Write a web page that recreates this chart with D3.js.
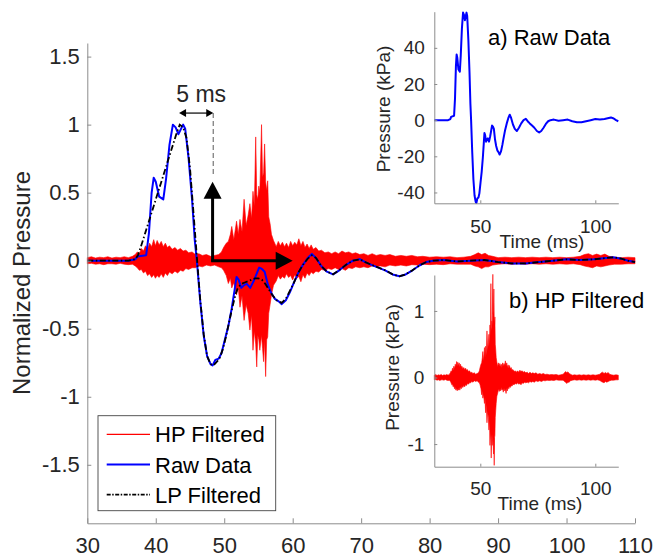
<!DOCTYPE html>
<html>
<head>
<meta charset="utf-8">
<script src="https://cdn.jsdelivr.net/npm/d3@7"></script>
<style>
html,body{margin:0;padding:0;background:#fff;}
text{font-family:"Liberation Sans",Arial,Helvetica,sans-serif;}
</style>
</head>
<body>
<svg id="chart" width="655" height="558"></svg>
<script>
// ---------------- DATA ----------------
const mainXTicks = [30,40,50,60,70,80,90,100,110];
const mainYTicks = [-1.5,-1,-0.5,0,0.5,1,1.5];
const insetXTicks = [50,100];
const insetAYTicks = [-40,-20,0,20,40];
const insetBYTicks = [-1,0,1];
const legendLabels = ["HP Filtered","Raw Data","LP Filtered"];

// Raw pressure (kPa): [time ms, value]
const rawData = [
 [30,0],[33,0],[36,0],[37,0.6],[37.3,1.8],[38.6,2.4],[39.0,11.9],[39.4,29.8],[39.7,36.3],[40.0,34.5],
 [40.5,28.0],[41.1,26.8],[41.5,35.7],[42.0,50.6],[42.5,59.5],[42.9,58.3],[43.3,55.3],[43.6,57.1],[44.0,59.5],[44.3,57.7],
 [44.8,44.6],[45.3,26.8],[45.7,8.9],[46.0,0],[46.5,-17.9],[47.0,-32.7],[47.5,-41.7],[48.0,-45.2],[48.3,-45.8],[48.7,-43.4],
 [49.2,-42.8],[49.6,-40.5],[50.1,-34.5],[50.6,-28.6],[51.1,-20.8],[51.5,-13.1],[51.8,-7.1],[52.1,-8.3],[52.5,-11.9],[52.9,-10.7],
 [53.3,-10.1],[53.8,-11.9],[54.3,-8.9],[54.7,-6.0],[55.1,-3.0],[55.5,-3.6],[55.9,-4.8],[56.4,-10.7],[56.9,-14.3],[57.4,-16.7],
 [58.0,-17.9],[58.4,-19.0],[59.0,-17.3],[59.6,-13.7],[60.1,-10.1],[60.8,-5.4],[61.5,-1.8],[62.2,1.2],[62.8,3.0],[63.4,1.2],
 [64.2,-2.4],[65.0,-4.8],[65.9,-6.0],[66.8,-4.2],[67.8,-1.8],[68.8,0],[69.8,0.7],[70.6,-0.6],[71.5,-1.8],[72.5,-3.0],
 [73.5,-4.2],[74.6,-6.0],[75.6,-6.8],[76.5,-6.0],[77.5,-4.2],[78.5,-2.1],[79.5,-0.6],[80.5,0],[82,0.3],[84,-0.3],
 [86,0],[88,0.3],[90,-0.6],[92,-1.2],[94,-1.2],[96,-0.6],[98,0],[100,0.6],[102,0.3],[104,0.6],
 [106.8,1.5],[108,0.9],[109,0],[110,-0.6]
];

// Low-pass filtered (normalized): [time ms, value]
const lpData = [
 [30,0],[36,0],[37,0.01],[37.4,0.04],[38,0.13],[38.5,0.21],[39,0.29],[39.5,0.37],[40,0.45],[40.5,0.53],
 [41,0.61],[41.5,0.69],[42,0.77],[42.5,0.85],[43,0.93],[43.5,1.0],[44,0.98],[44.5,0.9],[45,0.68],[45.5,0.36],
 [46,0.03],[46.5,-0.29],[47,-0.54],[47.5,-0.7],[48,-0.76],[48.4,-0.77],[48.8,-0.75],[49.3,-0.72],[49.8,-0.65],[50.3,-0.55],
 [50.8,-0.43],[51.3,-0.32],[51.7,-0.24],[52.0,-0.2],[52.5,-0.17],[53.0,-0.16],[53.5,-0.15],[54.0,-0.14],[54.5,-0.13],[55.0,-0.13],
 [55.5,-0.14],[56.0,-0.17],[56.5,-0.21],[57.0,-0.25],[57.6,-0.29],[58.4,-0.31],[59.0,-0.28],[59.6,-0.22],[60.1,-0.17],[60.8,-0.09],
 [61.5,-0.03],[62.2,0.015],[62.8,0.04],[63.4,0.02],[64.2,-0.04],[65.0,-0.08],[65.9,-0.1],[66.8,-0.07],[67.8,-0.03],[68.8,0],
 [69.8,0.01],[70.6,-0.01],[71.5,-0.03],[72.5,-0.05],[73.5,-0.07],[74.6,-0.1],[75.6,-0.115],[76.5,-0.1],[77.5,-0.07],[78.5,-0.035],
 [79.5,-0.01],[80.5,0],[82,0.005],[84,-0.005],[86,0],[88,0.005],[90,-0.01],[92,-0.02],[94,-0.02],[96,-0.01],
 [98,0],[100,0.01],[102,0.005],[104,0.01],[106.8,0.025],[108,0.015],[109,0],[110,-0.01]
];

// High-pass filtered (kPa) envelope: [time ms, upper, lower]
const hpData = [
 [30,.035,-.035],[30.6,.045,-.03],[31.2,.03,-.04],[31.8,.04,-.035],[32.4,.035,-.045],[33,.045,-.035],[33.6,.03,-.035],
 [34.2,.04,-.04],[34.8,.035,-.03],[35.4,.045,-.04],[36,.035,-.045],[36.6,.05,-.04],
 [37,.07,-.06],[37.3,.1,-.08],[37.6,.08,-.11],[37.9,.14,-.1],[38.2,.11,-.14],[38.5,.17,-.12],[38.8,.13,-.17],[39.1,.2,-.15],
 [39.4,.16,-.19],[39.7,.24,-.16],[39.95,.17,-.2],[40.2,.23,-.17],[40.5,.18,-.19],[40.8,.22,-.15],[41.1,.16,-.19],[41.4,.2,-.14],
 [41.7,.15,-.17],[42.0,.17,-.13],[42.4,.13,-.15],[42.8,.15,-.12],[43.2,.12,-.14],[43.6,.14,-.11],[44.0,.11,-.12],[44.4,.12,-.09],
 [44.8,.09,-.1],[45.3,.1,-.08],[45.8,.07,-.08],[46.3,.08,-.06],[46.8,.06,-.07],[47.4,.07,-.05],[48,.05,-.06],[48.6,.06,-.05],
 [49.2,.07,-.07],[49.6,.1,-.08],[49.9,.15,-.11],[50.3,.2,-.17],
 [50.6,0.22,-0.26],[50.9,0.3,-0.2],[51.1,0.39,-0.31],[51.4,0.24,-0.25],[51.8,0.45,-0.39],[52.05,0.3,-0.3],[52.3,0.47,-0.53],
 [52.6,0.33,-0.4],[52.9,0.7,-0.68],[53.2,0.4,-0.5],[53.5,0.52,-0.6],[53.75,0.65,-0.79],[54.0,0.48,-0.62],[54.2,0.79,-1.02],
 [54.4,0.62,-0.8],[54.6,1.41,-0.95],[54.75,0.75,-1.21],[54.9,0.7,-0.85],[55.05,0.85,-0.9],[55.2,0.78,-1.02],[55.45,1.55,-0.85],
 [55.6,0.95,-1.0],[55.75,1.0,-1.15],[55.9,1.33,-0.9],[56.05,0.9,-1.32],[56.2,0.8,-0.9],[56.35,0.91,-0.87],[56.5,0.5,-0.6],
 [56.7,0.42,-0.5],[56.9,0.3,-0.39],[57.2,0.23,-0.28],
 [57.6,.16,-.23],[57.9,.22,-.17],[58.2,.17,-.21],[58.5,.21,-.18],[58.8,.16,-.2],[59.1,.2,-.15],[59.4,.15,-.19],[59.7,.22,-.17],
 [60.0,.17,-.22],[60.3,.21,-.16],[60.6,.18,-.2],[60.9,.25,-.18],[61.2,.17,-.24],[61.5,.22,-.16],[61.8,.15,-.2],[62.1,.19,-.14],
 [62.4,.14,-.17],[62.7,.18,-.13],[63.0,.13,-.15],[63.4,.15,-.12],[63.8,.11,-.13],[64.2,.12,-.1],[64.7,.09,-.11],[65.2,.1,-.09],
 [65.7,.08,-.1],[66.2,.1,-.08],[66.7,.08,-.1],[67.2,.11,-.09],[67.7,.09,-.11],[68.2,.1,-.08],[68.7,.08,-.09],[69.2,.09,-.07],
 [69.8,.07,-.08],[70.4,.08,-.07],[71,.06,-.08],[71.6,.08,-.06],[72.2,.06,-.07],[72.8,.07,-.06],[73.5,.06,-.07],[74.2,.07,-.05],
 [75,.05,-.06],[75.8,.06,-.05],[76.6,.05,-.06],[77.4,.06,-.045],[78.2,.045,-.05],[79,.05,-.04],[80,.04,-.045],[81,.045,-.04],
 [82,.04,-.045],[83,.045,-.035],[84,.035,-.04],[85,.04,-.04],[86,.05,-.04],[86.6,.07,-.06],[87.1,.09,-.07],[87.6,.07,-.09],
 [88.1,.085,-.07],[88.6,.06,-.07],[89.2,.05,-.05],[90,.035,-.04],[91,.04,-.035],[92,.035,-.04],[93,.04,-.035],[94,.035,-.04],
 [95,.04,-.035],[96,.035,-.04],[97,.04,-.035],[98,.035,-.04],[99,.04,-.035],[100,.035,-.04],[101,.04,-.035],[102,.05,-.045],
 [102.6,.07,-.06],[103.2,.08,-.07],[103.8,.06,-.08],[104.4,.075,-.06],[105,.06,-.07],[105.6,.075,-.06],[106.2,.05,-.05],
 [107,.04,-.04],[108,.035,-.04],[109,.04,-.035],[110,.035,-.035]
];

// Annotation anchors (data units)
const arrowOrigin = [48.3, 0];
const arrowUpEnd = 0.58;
const arrowRightEnd = 60;
const spanStart = 43.4, spanEnd = 48.4, spanLevel = 1.085, dashBottom = 0.63;
const spanLabel = "5 ms";

// ---------------- DRAW ----------------
const svg = d3.select("#chart");
const AXC = "#8c8c8c", TXC = "#262626";
const RED = "#ff0000", BLUE = "#0000ff";

const rawMax = d3.max(rawData, d => d[1]);
const hpMax = d3.max(hpData, d => d[1]);

// main scales
const x = d3.scaleLinear([30,110],[87.3,635]);
const y = d3.scaleLinear([-1.93,1.6],[523.3,43]);

function styleAxis(g, fs){
  g.attr("font-family",null).attr("font-size",null);
  g.select(".domain").attr("stroke",AXC).attr("stroke-width",1);
  g.selectAll(".tick line").attr("stroke",AXC).attr("stroke-width",1);
  g.selectAll(".tick text").attr("fill",TXC).style("font-size",fs+"px")
    .style("font-family",'"Liberation Sans",Arial,sans-serif');
}

// HP (red) area
const hpAreaMain = d3.area()
  .x(d => x(d[0])).y0(d => y(d[2]/hpMax)).y1(d => y(d[1]/hpMax));
svg.append("path").datum(hpData).attr("d",hpAreaMain)
  .attr("fill",RED).attr("stroke",RED).attr("stroke-width",0.6).attr("stroke-linejoin","miter");

// Raw (blue)
const rawLineMain = d3.line().x(d => x(d[0])).y(d => y(d[1]/rawMax));
svg.append("path").datum(rawData).attr("d",rawLineMain)
  .attr("fill","none").attr("stroke",BLUE).attr("stroke-width",2).attr("stroke-linejoin","round");

// LP (black dash-dot)
const lpLine = d3.line().x(d => x(d[0])).y(d => y(d[1]));
svg.append("path").datum(lpData).attr("d",lpLine)
  .attr("fill","none").attr("stroke","#000").attr("stroke-width",1.8)
  .attr("stroke-dasharray","6,2.5,1.5,2.5");

// main axes
const gx = svg.append("g").attr("transform","translate(0,523.3)")
  .call(d3.axisBottom(x).tickValues(mainXTicks).tickFormat(d=>String(d))
    .tickSizeInner(-5).tickSizeOuter(0).tickPadding(14.5));
styleAxis(gx,22);
const gy = svg.append("g").attr("transform","translate(87.3,0)")
  .call(d3.axisLeft(y).tickValues(mainYTicks).tickFormat(d=>String(d))
    .tickSizeInner(-4).tickSizeOuter(0).tickPadding(7.5));
styleAxis(gy,22);

svg.append("text").attr("transform","translate(22,283) rotate(-90)")
  .attr("text-anchor","middle").attr("dy","0.35em")
  .style("font-size","24px").attr("fill",TXC).text("Normalized Pressure");

// arrows
const ax0 = x(arrowOrigin[0]), ay0 = y(arrowOrigin[1]);
const upTip = y(arrowUpEnd), rtTip = x(arrowRightEnd);
const HL = 17, HW = 9;
svg.append("line").attr("x1",ax0).attr("y1",ay0).attr("x2",ax0).attr("y2",upTip+HL-1)
  .attr("stroke","#000").attr("stroke-width",3);
svg.append("path").attr("d",`M${ax0},${upTip}L${ax0-HW},${upTip+HL}L${ax0+HW},${upTip+HL}Z`).attr("fill","#000");
svg.append("line").attr("x1",ax0-1.5).attr("y1",ay0).attr("x2",rtTip-HL+1).attr("y2",ay0)
  .attr("stroke","#000").attr("stroke-width",3);
svg.append("path").attr("d",`M${rtTip},${ay0}L${rtTip-HL},${ay0-HW}L${rtTip-HL},${ay0+HW}Z`).attr("fill","#000");

// 5 ms span
const sx0 = x(spanStart), sx1 = x(spanEnd), sy = y(spanLevel);
svg.append("line").attr("x1",sx1).attr("y1",sy).attr("x2",sx1).attr("y2",y(dashBottom))
  .attr("stroke","#808080").attr("stroke-width",1.3).attr("stroke-dasharray","5,3");
svg.append("line").attr("x1",sx0+5).attr("y1",sy).attr("x2",sx1-5).attr("y2",sy)
  .attr("stroke","#000").attr("stroke-width",1.2);
svg.append("path").attr("d",`M${sx0},${sy}L${sx0+7},${sy-4}L${sx0+7},${sy+4}Z`).attr("fill","#000");
svg.append("path").attr("d",`M${sx1},${sy}L${sx1-7},${sy-4}L${sx1-7},${sy+4}Z`).attr("fill","#000");
svg.append("text").attr("x",x((spanStart+spanEnd)/2)+5).attr("y",101.7).attr("text-anchor","middle")
  .style("font-size","23px").attr("fill",TXC).text(spanLabel);

// legend
const lg = svg.append("g");
lg.append("rect").attr("x",98).attr("y",415.7).attr("width",177.7).attr("height",95)
  .attr("fill","#fff").attr("stroke","#444").attr("stroke-width",0.9);
const legStyles = [
  {c:RED, w:1.2, dash:null},
  {c:BLUE, w:2, dash:null},
  {c:"#000", w:1.8, dash:"4,1.5,1.5,1.5"}
];
legendLabels.forEach((lab,i) => {
  const base = 442.3 + i*30.2;
  const l = lg.append("line").attr("x1",106.7).attr("x2",150).attr("y1",base-8).attr("y2",base-8)
    .attr("stroke",legStyles[i].c).attr("stroke-width",legStyles[i].w);
  if (legStyles[i].dash) l.attr("stroke-dasharray",legStyles[i].dash);
  lg.append("text").attr("x",155).attr("y",base).style("font-size","22px").attr("fill","#000").text(lab);
});

// ---------------- INSET A ----------------
const xa = d3.scaleLinear([30,110],[434.3,618.3]);
const ya = d3.scaleLinear([-46,60],[203.3,11.7]);
svg.append("path").datum(rawData).attr("d",d3.line().x(d=>xa(d[0])).y(d=>ya(d[1])))
  .attr("fill","none").attr("stroke",BLUE).attr("stroke-width",2).attr("stroke-linejoin","round");
const gxa = svg.append("g").attr("transform","translate(0,203.3)")
  .call(d3.axisBottom(xa).tickValues(insetXTicks).tickFormat(d=>String(d))
    .tickSizeInner(-3).tickSizeOuter(0).tickPadding(16.5));
styleAxis(gxa,19);
const gya = svg.append("g").attr("transform","translate(434.3,0)")
  .call(d3.axisLeft(ya).tickValues(insetAYTicks).tickFormat(d=>String(d))
    .tickSizeInner(-3).tickSizeOuter(0).tickPadding(9.5));
styleAxis(gya,19);
svg.append("text").attr("x",542).attr("y",248).attr("text-anchor","middle")
  .style("font-size","19px").attr("fill",TXC).text("Time (ms)");
svg.append("text").attr("transform","translate(383,109) rotate(-90)")
  .attr("text-anchor","middle").attr("dy","0.35em")
  .style("font-size","19px").attr("fill",TXC).text("Pressure (kPa)");
svg.append("text").attr("x",488).attr("y",45).style("font-size","22px").attr("fill","#000").text("a) Raw Data");

// ---------------- INSET B ----------------
const xb = d3.scaleLinear([30,110],[434.3,618.3]);
const yb = d3.scaleLinear([-1.34,1.54],[466.7,275]);
svg.append("path").datum(hpData)
  .attr("d",d3.area().x(d=>xb(d[0])).y0(d=>yb(d[2])).y1(d=>yb(d[1])))
  .attr("fill",RED).attr("stroke",RED).attr("stroke-width",0.6);
const gxb = svg.append("g").attr("transform","translate(0,466.7)")
  .call(d3.axisBottom(xb).tickValues(insetXTicks).tickFormat(d=>String(d))
    .tickSizeInner(-3).tickSizeOuter(0).tickPadding(15));
styleAxis(gxb,19);
const gyb = svg.append("g").attr("transform","translate(434.3,0)")
  .call(d3.axisLeft(yb).tickValues(insetBYTicks).tickFormat(d=>String(d))
    .tickSizeInner(-3).tickSizeOuter(0).tickPadding(10));
styleAxis(gyb,19);
svg.append("text").attr("x",540).attr("y",510).attr("text-anchor","middle")
  .style("font-size","19px").attr("fill",TXC).text("Time (ms)");
svg.append("text").attr("transform","translate(392,367.5) rotate(-90)")
  .attr("text-anchor","middle").attr("dy","0.35em")
  .style("font-size","19px").attr("fill",TXC).text("Pressure (kPa)");
svg.append("text").attr("x",509).attr("y",308.3).style("font-size","22px").attr("fill","#000").text("b) HP Filtered");
</script>
</body>
</html>
